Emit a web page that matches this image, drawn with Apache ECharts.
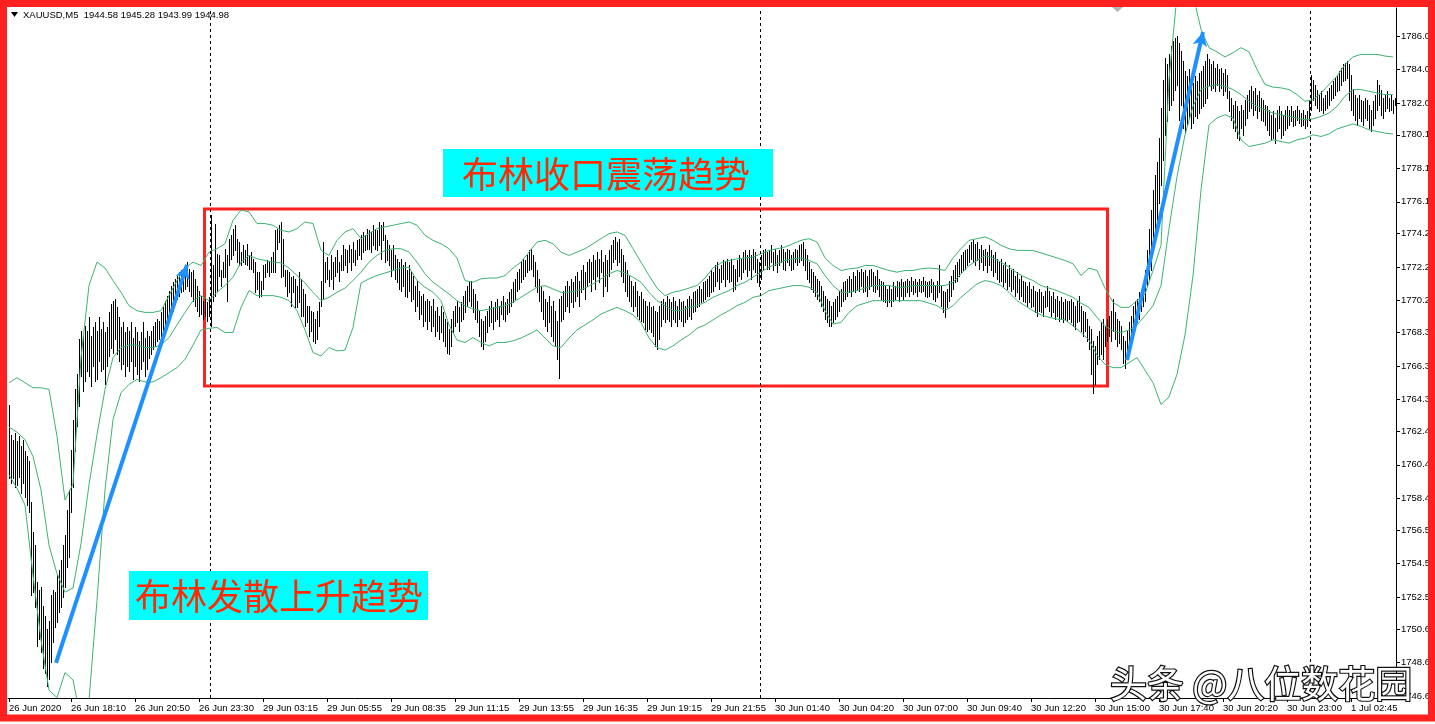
<!DOCTYPE html>
<html><head><meta charset="utf-8">
<script src="https://cdn.jsdelivr.net/npm/echarts@6/dist/echarts.min.js"></script>
<style>html,body{margin:0;padding:0;background:#fff;}#chart{width:1435px;height:724px;}</style>
</head><body><div id="chart"></div>
<script>
// ---- tick labels ----
const yTicks = [1746.6,1748.6,1750.6,1752.5,1754.5,1756.5,1758.4,1760.4,1762.4,1764.3,1766.3,1768.3,1770.2,1772.2,1774.2,1776.1,1778.1,1780.1,1782.0,1784.0,1786.0];
const xTickIdx = [0,31,63,95,127,159,191,223,255,287,319,351,383,415,447,479,511,543,575,607,639,671];
const xTickLabels = ["26 Jun 2020","26 Jun 18:10","26 Jun 20:50","26 Jun 23:30","29 Jun 03:15","29 Jun 05:55","29 Jun 08:35","29 Jun 11:15","29 Jun 13:55","29 Jun 16:35","29 Jun 19:15","29 Jun 21:55","30 Jun 01:40","30 Jun 04:20","30 Jun 07:00","30 Jun 09:40","30 Jun 12:20","30 Jun 15:00","30 Jun 17:40","30 Jun 20:20","30 Jun 23:00","1 Jul 02:45"];
const daySeparators = [100.75, 375.75, 650.75];

// ---- M5 bars: high / low ----
const barHigh = [
1764.0,1762.2,1761.9,1762.3,1761.8,1762.1,1761.5,1761.9,1761.2,1760.9,
1760.6,1758.2,1756.4,1755.6,1753.4,1752.9,1753.1,1752.0,1751.4,1750.6,
1751.1,1752.6,1752.9,1752.8,1753.8,1754.1,1754.7,1755.6,1756.2,1757.7,
1758.9,1761.3,1763.1,1764.9,1765.8,1767.9,1768.4,1768.1,1768.7,1768.4,
1769.2,1768.1,1768.6,1768.9,1768.4,1769.2,1768.5,1768.9,1768.3,1768.6,
1769.5,1770.0,1770.2,1770.3,1769.8,1769.2,1768.6,1768.9,1768.3,1768.6,
1768.4,1768.9,1768.0,1768.6,1768.3,1767.8,1768.3,1768.9,1768.0,1768.4,
1768.1,1768.4,1768.7,1768.9,1769.1,1769.0,1769.5,1769.8,1770.2,1770.5,
1770.8,1771.1,1771.3,1771.5,1771.7,1771.9,1772.0,1772.1,1772.3,1772.5,
1772.1,1771.9,1772.0,1771.5,1771.1,1770.8,1770.5,1770.2,1770.3,1770.1,
1770.4,1775.3,1772.3,1774.8,1773.0,1772.9,1772.0,1772.5,1773.3,1772.9,
1773.9,1774.1,1774.5,1774.7,1773.9,1773.7,1773.1,1773.5,1773.2,1773.6,
1772.9,1773.1,1772.7,1772.5,1771.9,1771.9,1771.4,1772.3,1772.4,1772.6,
1772.5,1772.8,1773.1,1774.4,1774.5,1774.7,1774.9,1773.9,1772.0,1772.0,
1771.9,1771.6,1771.7,1771.5,1771.1,1771.9,1771.5,1770.9,1770.6,1769.9,
1769.9,1769.6,1769.5,1769.1,1769.6,1770.1,1771.4,1773.7,1772.5,1772.8,
1772.0,1772.9,1772.5,1772.8,1773.2,1772.5,1772.9,1773.5,1773.3,1773.2,
1773.5,1773.3,1773.7,1773.2,1773.8,1773.9,1774.1,1774.3,1774.1,1774.5,
1774.4,1774.3,1774.7,1774.5,1774.4,1774.9,1774.7,1774.9,1774.1,1773.8,
1773.5,1773.2,1773.5,1772.9,1772.7,1772.5,1772.7,1772.3,1772.5,1772.0,
1772.3,1771.9,1771.7,1771.1,1771.4,1770.8,1770.5,1770.6,1770.2,1770.3,
1770.2,1769.9,1770.3,1769.6,1769.8,1769.3,1769.9,1769.5,1769.1,1768.9,
1768.5,1769.1,1769.6,1769.9,1770.2,1769.8,1770.1,1770.5,1770.8,1771.1,
1771.3,1771.4,1770.9,1770.6,1770.2,1769.6,1769.1,1769.0,1769.3,1769.6,
1769.9,1770.2,1769.8,1770.1,1770.3,1769.9,1770.2,1770.5,1770.1,1770.3,
1770.7,1770.9,1771.3,1771.5,1771.9,1772.1,1772.5,1772.7,1772.6,1772.9,
1773.2,1773.3,1772.9,1772.5,1772.0,1771.5,1771.1,1770.8,1770.3,1770.1,
1770.5,1769.9,1770.2,1769.6,1769.0,1770.3,1770.5,1770.8,1771.1,1771.4,
1771.1,1771.5,1771.3,1771.7,1771.9,1771.4,1772.0,1772.3,1771.9,1772.5,
1772.7,1772.5,1772.9,1772.6,1773.1,1772.7,1773.2,1772.5,1772.9,1772.6,
1773.2,1773.5,1773.8,1774.0,1773.7,1773.9,1773.3,1772.9,1772.5,1772.0,
1771.7,1771.4,1771.1,1771.3,1770.8,1770.5,1770.7,1770.3,1770.2,1769.9,
1770.1,1769.8,1769.9,1769.6,1769.5,1769.9,1770.2,1770.3,1770.1,1770.5,
1770.3,1770.1,1770.4,1770.2,1769.9,1770.3,1770.1,1770.2,1769.9,1770.3,
1770.5,1770.3,1770.7,1770.8,1770.9,1771.1,1770.9,1771.3,1771.4,1771.5,
1771.7,1772.0,1771.9,1772.3,1772.5,1772.1,1772.3,1772.6,1772.5,1772.7,
1772.5,1772.7,1772.3,1772.1,1772.6,1772.9,1772.7,1773.1,1773.2,1772.9,
1773.2,1772.9,1773.3,1773.1,1772.7,1772.5,1772.9,1773.2,1773.3,1773.1,
1773.2,1773.5,1773.1,1773.3,1772.9,1773.2,1773.5,1773.3,1773.1,1773.3,
1773.2,1772.9,1773.1,1773.3,1773.2,1773.5,1773.6,1773.7,1773.3,1772.9,
1772.5,1772.1,1771.9,1771.7,1771.5,1771.4,1771.1,1770.8,1770.5,1770.3,
1770.2,1769.9,1770.1,1770.3,1770.5,1770.8,1770.9,1771.3,1771.4,1771.5,
1771.7,1771.5,1771.9,1771.7,1772.0,1771.9,1772.1,1771.9,1772.0,1771.7,
1772.0,1772.1,1771.9,1771.7,1772.0,1771.5,1771.4,1771.3,1771.1,1770.9,
1771.1,1770.9,1771.3,1771.1,1771.4,1771.3,1771.5,1771.3,1771.4,1771.5,
1771.4,1771.6,1771.4,1771.5,1771.3,1771.5,1771.4,1771.6,1771.4,1771.3,
1771.4,1771.5,1771.3,1771.1,1771.4,1772.3,1771.1,1770.8,1770.7,1770.9,
1771.4,1771.7,1772.0,1772.3,1772.5,1772.7,1772.9,1773.1,1773.2,1773.3,
1773.5,1773.7,1773.8,1773.6,1773.7,1773.3,1773.5,1773.2,1773.3,1773.1,
1773.5,1773.2,1772.9,1773.1,1772.7,1772.5,1772.7,1772.3,1772.5,1772.1,
1772.3,1772.0,1772.1,1771.7,1771.9,1771.5,1771.7,1771.4,1771.3,1771.1,
1771.3,1770.9,1771.1,1770.8,1770.7,1770.9,1770.7,1770.5,1770.8,1771.1,
1770.8,1770.5,1770.7,1770.3,1770.5,1770.2,1770.4,1770.1,1770.3,1770.2,
1770.2,1770.3,1770.1,1769.9,1770.2,1770.5,1769.9,1769.6,1769.5,1769.1,
1768.7,1768.5,1767.8,1767.5,1768.1,1768.4,1768.9,1769.1,1768.7,1769.1,
1769.3,1769.6,1770.3,1769.5,1769.1,1769.0,1768.7,1768.1,1767.8,1768.4,
1768.9,1769.3,1769.9,1770.2,1770.3,1770.7,1770.8,1771.1,1772.0,1773.2,
1774.5,1775.6,1776.8,1777.7,1778.5,1779.9,1781.7,1783.4,1784.7,1784.3,
1784.9,1785.4,1785.7,1785.9,1786.0,1785.6,1785.1,1784.5,1783.9,1783.6,
1784.0,1783.4,1783.2,1783.6,1783.3,1783.8,1783.9,1784.2,1784.5,1784.9,
1784.6,1784.3,1784.5,1784.1,1784.3,1784.0,1784.1,1783.8,1784.0,1783.7,
1782.7,1782.3,1781.9,1782.1,1781.8,1781.5,1781.9,1781.6,1782.2,1782.5,
1782.8,1783.0,1782.7,1782.9,1782.5,1782.7,1782.3,1782.2,1781.9,1781.8,
1781.6,1781.3,1781.5,1781.1,1781.6,1781.8,1781.5,1781.3,1781.6,1781.8,
1781.6,1781.8,1781.5,1781.6,1781.8,1781.6,1781.4,1781.6,1781.3,1781.5,
1782.2,1783.7,1783.4,1783.1,1782.8,1782.5,1782.7,1782.3,1782.5,1782.7,
1782.9,1783.1,1783.3,1783.5,1783.7,1783.9,1784.1,1784.3,1784.4,1784.5,
1784.3,1783.7,1782.8,1782.5,1782.3,1782.5,1782.2,1782.1,1782.3,1782.2,
1781.9,1781.6,1782.1,1782.5,1783.4,1783.1,1782.8,1782.3,1782.5,1782.7,
1782.3,1782.5,1782.2,1782.3
];
const barLow = [
1759.6,1759.3,1759.6,1759.1,1759.2,1759.7,1758.7,1759.3,1758.5,1758.0,
1757.6,1752.6,1752.8,1751.9,1749.6,1750.0,1749.2,1748.3,1748.0,1747.2,
1747.6,1748.6,1749.8,1750.7,1751.0,1751.6,1751.9,1752.5,1753.1,1754.3,
1754.9,1757.6,1759.1,1761.2,1762.7,1763.9,1765.7,1764.8,1765.4,1766.0,
1765.7,1765.1,1766.3,1765.4,1765.5,1766.6,1766.0,1766.1,1765.2,1766.3,
1766.9,1767.4,1767.1,1767.9,1767.0,1766.6,1766.1,1766.4,1765.7,1766.3,
1766.0,1766.6,1765.5,1766.3,1765.8,1765.4,1766.1,1766.6,1765.7,1766.1,
1766.8,1767.0,1767.3,1767.5,1767.8,1767.9,1768.1,1768.4,1768.7,1769.0,
1769.3,1769.9,1769.6,1770.2,1770.3,1770.5,1770.7,1770.8,1770.9,1771.1,
1770.8,1770.5,1770.2,1769.9,1769.6,1769.3,1769.4,1769.1,1769.3,1769.0,
1769.3,1768.7,1770.2,1770.5,1770.8,1771.7,1771.1,1771.6,1771.6,1770.2,
1772.3,1772.7,1772.9,1773.2,1772.5,1772.3,1772.3,1772.5,1772.4,1772.3,
1772.1,1772.1,1771.9,1770.7,1770.9,1770.4,1770.5,1770.9,1771.6,1771.9,
1771.7,1771.9,1771.9,1771.9,1773.3,1773.7,1771.6,1771.7,1771.1,1770.5,
1770.7,1769.9,1770.7,1769.8,1769.8,1770.1,1769.3,1769.3,1768.7,1768.9,
1768.1,1768.4,1767.8,1767.7,1767.9,1768.7,1769.9,1770.3,1771.3,1771.5,
1771.1,1771.5,1770.9,1771.7,1771.9,1771.4,1772.0,1772.0,1772.3,1771.9,
1772.5,1772.0,1772.5,1772.3,1772.7,1772.9,1772.7,1773.1,1773.2,1773.3,
1773.3,1773.1,1773.5,1773.3,1773.2,1773.5,1772.7,1773.8,1772.5,1772.6,
1772.3,1771.7,1772.1,1771.5,1771.3,1770.9,1770.8,1771.1,1770.5,1770.4,
1770.8,1770.2,1770.3,1769.6,1769.9,1769.1,1769.4,1768.7,1769.0,1768.5,
1769.0,1768.4,1768.7,1768.1,1768.4,1767.9,1768.3,1767.8,1767.5,1767.1,
1767.0,1767.5,1768.3,1768.7,1768.9,1768.4,1769.0,1769.1,1769.5,1769.9,
1770.2,1769.9,1769.5,1769.1,1768.9,1768.1,1767.5,1767.3,1767.8,1768.3,
1768.7,1768.9,1768.5,1769.0,1769.1,1768.7,1769.4,1769.1,1769.0,1769.4,
1769.5,1769.9,1770.1,1770.3,1770.8,1770.9,1771.3,1771.5,1771.7,1771.9,
1772.0,1772.1,1771.7,1771.1,1770.7,1770.2,1769.6,1769.1,1768.7,1768.4,
1768.9,1768.1,1767.8,1767.5,1766.7,1765.6,1769.0,1769.1,1769.6,1769.9,
1769.5,1770.1,1769.8,1770.2,1770.5,1769.9,1770.7,1770.9,1770.3,1771.1,
1771.3,1770.8,1771.5,1770.9,1771.7,1771.3,1771.9,1770.5,1771.1,1770.8,
1771.7,1772.1,1772.5,1772.7,1772.3,1772.5,1771.7,1771.3,1770.8,1770.5,
1770.2,1769.9,1769.6,1769.9,1769.3,1769.1,1769.0,1768.9,1768.5,1768.4,
1768.5,1768.3,1768.1,1767.5,1767.3,1767.9,1768.7,1769.1,1768.9,1769.1,
1769.0,1768.7,1769.1,1768.9,1768.7,1769.1,1769.0,1768.7,1768.9,1769.1,
1769.3,1769.1,1769.5,1769.6,1769.8,1769.9,1770.1,1770.2,1770.3,1770.5,
1770.5,1770.7,1770.8,1771.1,1771.4,1770.9,1771.3,1771.5,1771.1,1771.5,
1771.3,1771.4,1770.8,1770.9,1771.4,1771.7,1771.5,1771.9,1772.1,1771.7,
1772.0,1771.5,1772.1,1771.9,1771.3,1771.1,1771.5,1772.0,1772.3,1772.1,
1772.1,1772.5,1772.0,1772.3,1771.9,1772.3,1772.5,1772.1,1772.0,1772.5,
1772.3,1772.0,1772.1,1772.5,1772.3,1772.5,1772.6,1772.3,1772.0,1771.5,
1771.3,1770.9,1770.7,1770.5,1770.3,1770.2,1769.9,1769.6,1769.1,1768.9,
1768.7,1768.7,1768.9,1769.1,1769.3,1769.6,1769.9,1770.2,1770.3,1770.5,
1770.7,1770.5,1770.8,1770.7,1770.9,1770.8,1771.1,1770.7,1770.8,1770.5,
1770.9,1771.1,1770.8,1770.7,1770.9,1770.5,1770.3,1770.2,1770.1,1769.9,
1770.1,1769.9,1770.2,1770.3,1770.5,1770.2,1770.5,1770.3,1770.5,1770.7,
1770.5,1770.8,1770.6,1770.7,1770.5,1770.8,1770.7,1770.8,1770.5,1770.4,
1770.5,1770.7,1770.3,1770.2,1770.4,1770.7,1769.9,1769.5,1769.2,1769.8,
1770.2,1770.5,1770.9,1771.3,1771.4,1771.7,1771.9,1772.0,1772.1,1772.3,
1772.5,1772.7,1772.5,1772.3,1772.6,1772.1,1772.5,1772.0,1772.3,1771.9,
1772.3,1772.0,1771.7,1771.9,1771.5,1771.3,1771.4,1771.1,1771.3,1770.9,
1771.1,1770.8,1770.9,1770.5,1770.7,1770.3,1770.5,1770.2,1770.1,1769.9,
1770.1,1769.8,1769.9,1769.5,1769.3,1769.6,1769.5,1769.3,1769.8,1769.9,
1769.6,1769.3,1769.5,1769.1,1769.3,1769.0,1769.1,1768.9,1769.1,1769.0,
1769.1,1768.9,1768.7,1768.5,1768.9,1769.0,1768.4,1768.1,1768.4,1767.8,
1767.3,1765.8,1764.7,1765.2,1766.4,1766.7,1767.0,1766.7,1767.5,1767.8,
1768.1,1767.8,1768.4,1767.9,1767.5,1767.7,1767.3,1766.5,1766.2,1766.7,
1767.3,1767.8,1768.3,1768.7,1768.9,1769.1,1769.6,1769.9,1770.2,1771.1,
1771.5,1772.0,1773.2,1774.1,1775.0,1776.0,1777.1,1778.6,1780.1,1780.9,
1781.6,1781.9,1782.2,1782.8,1783.1,1781.0,1781.9,1780.5,1780.2,1780.7,
1781.1,1780.5,1780.8,1781.2,1781.1,1781.4,1781.7,1781.8,1782.0,1782.3,
1783.1,1782.8,1782.9,1782.7,1783.1,1782.7,1782.9,1782.5,1782.7,1782.3,
1781.5,1781.0,1780.5,1780.3,1779.9,1779.8,1780.5,1780.1,1780.7,1781.1,
1781.5,1781.7,1781.3,1781.6,1781.1,1781.5,1781.0,1780.9,1780.7,1780.4,
1780.1,1779.8,1779.9,1779.6,1780.3,1780.5,1779.9,1780.1,1780.4,1780.5,
1780.7,1780.9,1780.6,1780.7,1781.0,1780.8,1780.6,1780.7,1780.5,1780.6,
1781.0,1781.6,1782.2,1781.9,1781.7,1781.5,1781.6,1781.4,1781.6,1781.7,
1781.9,1782.2,1782.3,1782.5,1782.7,1782.8,1783.1,1783.3,1783.4,1783.5,
1782.2,1781.6,1781.3,1781.0,1780.7,1781.1,1780.9,1780.7,1781.1,1781.0,
1780.5,1780.3,1780.7,1781.1,1781.6,1781.9,1781.3,1781.1,1781.5,1781.7,
1781.5,1781.6,1781.4,1781.9
];

// ---- Bollinger bands (20,2), read every 4th bar ----
const BAND_STEP = 4;
const bandUpper = [
1765.3,1765.6,1765.3,1765.0,1765.0,1764.9,1762.1,1758.3,1759.25,1766.8,1771.1,1772.5,1772.15,1771.4,1770.7,1769.9,1769.6,1769.5,1769.5,1769.6,1770.5,1771.4,1772.15,1772.5,1772.3,
1773.1,1773.3,1773.6,1775.0,1775.6,1775.5,1774.8,1774.8,1774.7,1774.4,1774.3,1774.5,1774.9,1774.8,1773.2,1772.9,1773.8,1774.3,1774.5,1773.9,1774.2,1774.5,1774.6,1774.7,1774.8,
1774.9,1774.7,1774.1,1773.8,1773.6,1773.3,1772.75,1771.4,1771.3,1771.5,1771.55,1771.55,1771.7,1772.15,1772.5,1773.1,1773.7,1773.8,1773.6,1773.1,1772.9,1773.1,1773.3,1773.6,1773.9,
1774.2,1774.3,1774.1,1773.3,1772.5,1771.7,1770.95,1770.5,1770.7,1770.8,1770.95,1771.1,1771.55,1772.15,1772.45,1772.6,1772.7,1772.75,1772.8,1773.0,1773.2,1773.3,1773.4,1773.6,1773.8,
1773.9,1773.7,1772.75,1772.3,1772.0,1772.1,1772.15,1772.3,1772.3,1772.15,1772.0,1771.9,1772.0,1772.0,1772.1,1772.15,1772.1,1772.0,1772.75,1773.3,1773.8,1773.9,1774.0,1773.8,1773.5,
1773.3,1773.2,1773.2,1773.2,1773.05,1772.9,1772.75,1772.6,1772.4,1771.7,1772.15,1772.0,1770.95,1770.1,1769.8,1769.8,1770.2,1770.6,1772.0,1773.5,1783.4,1788.45,1789.65,1788.45,1786.4,
1785.3,1785.05,1784.75,1785.0,1785.3,1785.05,1784.0,1783.1,1782.95,1782.9,1782.8,1782.5,1782.1,1782.2,1782.6,1783.1,1783.6,1784.3,1784.75,1784.9,1784.9,1784.9,1784.8,1784.75
];
const bandMid = [
1762.65,1762.35,1761.9,1760.9,1758.9,1755.6,1753.9,1752.8,1753.05,1755.7,1759.2,1762.2,1764.9,1766.8,1767.4,1767.55,1767.55,1767.4,1767.4,1767.55,1768.0,1768.75,1769.5,1770.2,1770.5,
1770.2,1770.7,1771.1,1771.6,1772.5,1772.9,1772.7,1772.6,1772.5,1772.45,1772.15,1771.7,1771.25,1770.7,1770.2,1770.4,1770.7,1770.95,1771.4,1771.9,1772.5,1772.9,1773.2,1773.3,1773.3,
1773.1,1772.5,1771.8,1771.3,1770.95,1770.6,1770.2,1769.9,1769.7,1769.6,1769.7,1769.8,1769.9,1770.1,1770.4,1770.7,1771.0,1771.1,1770.9,1770.7,1770.7,1770.8,1770.95,1771.2,1771.5,
1771.8,1772.0,1771.85,1771.6,1771.3,1770.7,1770.2,1769.9,1769.6,1769.6,1769.8,1769.9,1770.1,1770.4,1770.6,1770.8,1771.1,1771.3,1771.6,1771.9,1772.2,1772.4,1772.6,1772.7,1772.75,
1772.6,1772.4,1771.7,1771.1,1770.7,1770.7,1770.8,1770.95,1771.1,1771.1,1771.1,1771.0,1771.0,1771.1,1771.1,1771.1,1771.1,1771.1,1771.3,1771.8,1772.3,1772.6,1772.9,1772.75,1772.5,
1772.2,1771.85,1771.6,1771.4,1771.1,1770.95,1770.8,1770.6,1770.4,1770.05,1769.8,1769.2,1768.7,1768.4,1768.3,1768.45,1768.75,1769.3,1769.9,1771.1,1774.5,1777.6,1780.1,1781.8,1782.8,
1783.0,1783.1,1783.0,1782.8,1782.5,1782.1,1781.8,1781.6,1781.4,1781.3,1781.2,1781.1,1781.0,1781.05,1781.2,1781.4,1781.8,1782.4,1782.8,1782.8,1782.7,1782.6,1782.5,1782.5
];
const bandLower = [
1759.8,1759.0,1758.0,1753.8,1749.95,1746.95,1746.5,1748.0,1747.55,1745.2,1746.35,1752.3,1758.9,1763.1,1764.7,1765.2,1765.5,1765.35,1765.35,1765.6,1765.9,1766.2,1766.7,1767.55,1768.45,
1768.55,1768.6,1768.3,1768.3,1769.8,1770.8,1770.5,1770.5,1770.5,1770.4,1770.2,1769.6,1768.45,1767.1,1766.9,1767.4,1767.2,1767.25,1768.6,1771.25,1771.5,1771.7,1771.85,1772.0,1772.15,
1772.2,1771.4,1771.0,1770.7,1770.2,1768.75,1767.85,1767.7,1768.0,1767.7,1767.5,1767.7,1767.7,1767.8,1767.97,1768.2,1768.45,1767.97,1767.5,1767.4,1767.97,1768.45,1768.75,1769.05,1769.4,
1769.6,1769.8,1769.6,1769.35,1768.9,1767.97,1767.4,1767.25,1767.5,1767.85,1768.15,1768.55,1768.75,1769.05,1769.35,1769.6,1769.9,1770.1,1770.4,1770.5,1770.8,1770.9,1771.0,1771.1,1771.1,
1771.0,1770.7,1769.6,1768.8,1768.9,1769.5,1769.9,1770.05,1770.2,1770.2,1770.2,1770.2,1770.2,1770.2,1770.2,1770.05,1769.9,1769.6,1769.9,1770.4,1770.8,1771.2,1771.4,1771.3,1771.1,
1770.7,1770.2,1769.9,1769.6,1769.35,1769.2,1769.1,1769.05,1768.7,1768.3,1767.85,1766.95,1766.4,1766.2,1766.2,1766.5,1766.8,1766.05,1765.3,1764.0,1764.45,1765.8,1768.15,1771.7,1776.8,
1780.7,1781.1,1781.3,1781.1,1779.8,1779.4,1779.5,1779.6,1779.8,1779.7,1779.6,1779.8,1779.9,1780.1,1780.0,1780.15,1780.45,1780.6,1780.75,1780.6,1780.4,1780.3,1780.2,1780.15
];

// ---- annotations (data coordinates) ----
const rangeBox = {x0: 97.75, y0: 1775.67, x1: 549.25, y1: 1765.1};
const arrowUp1 = [[23.5, 1748.57], [89, 1772.33]];
const arrowUp2 = [[559, 1766.66], [597, 1786.24]];

const chart = echarts.init(document.getElementById('chart'), null, {renderer: 'canvas'});
const axisFont = {color: '#000', fontSize: 9.5, fontFamily: '"Liberation Sans", Arial, sans-serif'};
const bandStyle = {color: '#3cb371', width: 1};
const bandData = arr => arr.map((v, k) => [k * BAND_STEP, v]);

chart.setOption({
  animation: false,
  backgroundColor: '#ffffff',
  grid: {left: 8, right: 39, top: 8, bottom: 26, containLabel: false},
  xAxis: {
    type: 'value', min: -0.5, max: 693.5,
    axisLine: {show: true, onZero: false, lineStyle: {color: '#000', width: 1}},
    axisTick: {show: true, length: 4, customValues: xTickIdx, lineStyle: {color: '#000'}},
    axisLabel: Object.assign({show: true, customValues: xTickIdx, align: 'left', margin: 5,
      formatter: v => { const j = xTickIdx.indexOf(Math.round(v)); return j >= 0 ? xTickLabels[j] : ''; }}, axisFont),
    splitLine: {show: false}
  },
  yAxis: {
    type: 'value', position: 'right', min: 1746.48, max: 1787.67,
    axisLine: {show: true, onZero: false, lineStyle: {color: '#000', width: 1}},
    axisTick: {show: true, length: 4, customValues: yTicks, lineStyle: {color: '#000'}},
    axisLabel: Object.assign({show: true, customValues: yTicks, margin: 5, formatter: v => v.toFixed(1)}, axisFont),
    splitLine: {show: false}
  },
  series: [
    {
      name: 'bars', type: 'custom', z: 2, clip: true,
      data: barHigh.map((h, i) => [i, barLow[i], h]),
      encode: {x: 0, y: [1, 2]},
      renderItem: (params, api) => {
        const i = api.value(0);
        const top = api.coord([i, api.value(2)]);
        const bot = api.coord([i, api.value(1)]);
        const x = Math.floor(top[0]) + 0.5;
        return {type: 'line', shape: {x1: x, y1: Math.round(top[1]), x2: x, y2: Math.round(bot[1]) + 1},
          style: {stroke: '#000', lineWidth: 1}};
      },
      markLine: {
        silent: true, symbol: ['none', 'none'], label: {show: false},
        lineStyle: {color: '#000', type: [3, 3], width: 1},
        data: daySeparators.map(v => ({xAxis: v}))
      }
    },
    {
      name: 'upper', type: 'line', z: 3, showSymbol: false, symbol: 'none', clip: true,
      data: bandData(bandUpper), lineStyle: bandStyle
    },
    {
      name: 'middle', type: 'line', z: 3, showSymbol: false, symbol: 'none', clip: true,
      data: bandData(bandMid), lineStyle: bandStyle,
      markArea: {
        silent: true,
        itemStyle: {color: 'rgba(0,0,0,0)', borderColor: '#ff2020', borderWidth: 3},
        data: [[{coord: [rangeBox.x0, rangeBox.y0]}, {coord: [rangeBox.x1, rangeBox.y1]}]]
      }
    },
    {
      name: 'lower', type: 'line', z: 4, showSymbol: false, symbol: 'none', clip: true,
      data: bandData(bandLower), lineStyle: bandStyle,
      markLine: {
        silent: true, symbol: ['none', 'arrow'], symbolSize: [11, 14], label: {show: false},
        lineStyle: {color: '#1e90ff', width: 4, type: 'solid'},
        data: [
          [{coord: arrowUp1[0]}, {coord: arrowUp1[1]}],
          [{coord: arrowUp2[0]}, {coord: arrowUp2[1]}]
        ]
      }
    }
  ],
  graphic: [
    {type: 'polygon', z: 50, shape: {points: [[11, 12], [18, 12], [14.5, 17]]}, style: {fill: '#000'}},
    {type: 'text', z: 50, x: 23, y: 15, style: {text: 'XAUUSD,M5  1944.58 1945.28 1943.99 1944.98',
      fill: '#000', font: '9.5px "Liberation Sans", Arial, sans-serif', verticalAlign: 'middle', align: 'left'}},
    {type: 'rect', z: 50, shape: {x: 443, y: 149, width: 330, height: 48}, style: {fill: '#00ffff'}},
    {type: 'text', z: 51, x: 606, y: 174, style: {text: '布林收口震荡趋势', fill: '#ff2a00',
      font: '36px "Noto Sans CJK SC", sans-serif', align: 'center', verticalAlign: 'middle'}},
    {type: 'rect', z: 50, shape: {x: 129, y: 571, width: 299, height: 49}, style: {fill: '#00ffff'}},
    {type: 'text', z: 51, x: 279, y: 596, style: {text: '布林发散上升趋势', fill: '#ff2a00',
      font: '36px "Noto Sans CJK SC", sans-serif', align: 'center', verticalAlign: 'middle'}},
    {type: 'text', z: 60, x: 1110, y: 684, style: {text: '头条 @八位数花园', fill: '#ffffff', stroke: '#111', lineWidth: 2.4,
      font: '37px "Noto Sans CJK SC", sans-serif', align: 'left', verticalAlign: 'middle',
      shadowColor: 'rgba(0,0,0,0.55)', shadowOffsetX: 1, shadowOffsetY: 1, shadowBlur: 1}},
    {type: 'polygon', z: 60, shape: {points: [[1112, 7], [1123, 7], [1117.5, 12]]}, style: {fill: '#b4b4b4'}},
    {type: 'rect', z: 100, shape: {x: 3.5, y: 3.5, width: 1428, height: 714.5}, style: {fill: 'none', stroke: '#ff2020', lineWidth: 7}}
  ]
});
</script></body></html>
